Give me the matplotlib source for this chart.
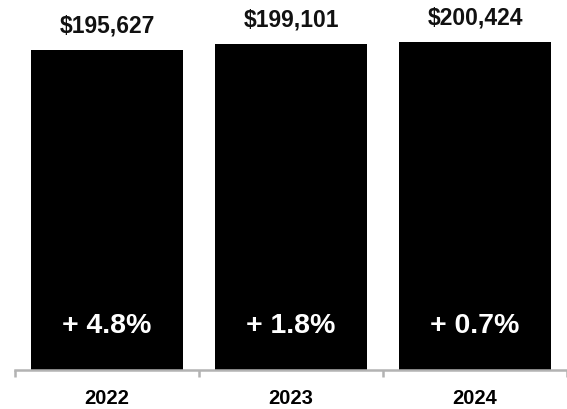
import matplotlib
matplotlib.use("Agg")
import matplotlib.pyplot as plt

plt.rcParams['font.family'] = ['Liberation Sans', 'DejaVu Sans']

years = ["2022", "2023", "2024"]
totals = [195627, 199101, 200424]
growth = ["+ 4.8%", "+ 1.8%", "+ 0.7%"]

fig = plt.figure(figsize=(5.67, 4.10), dpi=100)
# axes start at the first tick and run past the right edge of the figure
ax = fig.add_axes([15/567, 39.5/410, 552/567, 370.5/410])

x = list(range(len(years)))
ax.bar(x, totals, width=0.83, color='black', zorder=1)

for i, val in enumerate(totals):
    ax.annotate("${:,}".format(val), (i, val), xytext=(0, 10),
                textcoords='offset points', ha='center', va='bottom',
                fontsize=16.5, fontweight='bold', color='#111111')
    ax.text(i, 27500, growth[i], ha='center', va='center',
            fontsize=20.5, fontweight='bold', color='white')

ax.set_xlim(-0.5, -0.5 + 552/189)
ax.set_ylim(0, 226940)

for side in ['top', 'right', 'left']:
    ax.spines[side].set_visible(False)
ax.spines['bottom'].set_color('#b3b3b3')
ax.spines['bottom'].set_linewidth(1.8)
ax.set_yticks([])

# gray separator ticks between categories, labels centred under bars
ax.set_xticks([-0.5, 0.5, 1.5, 2.5])
ax.set_xticklabels([])
ax.tick_params(axis='x', which='major', direction='out', length=5,
               width=1.8, color='#b3b3b3')
ax.set_xticks(x, minor=True)
ax.set_xticklabels(years, minor=True, fontsize=14.5, fontweight='bold')
ax.tick_params(axis='x', which='minor', length=0, pad=13)

fig.savefig("out.png", dpi=100)
